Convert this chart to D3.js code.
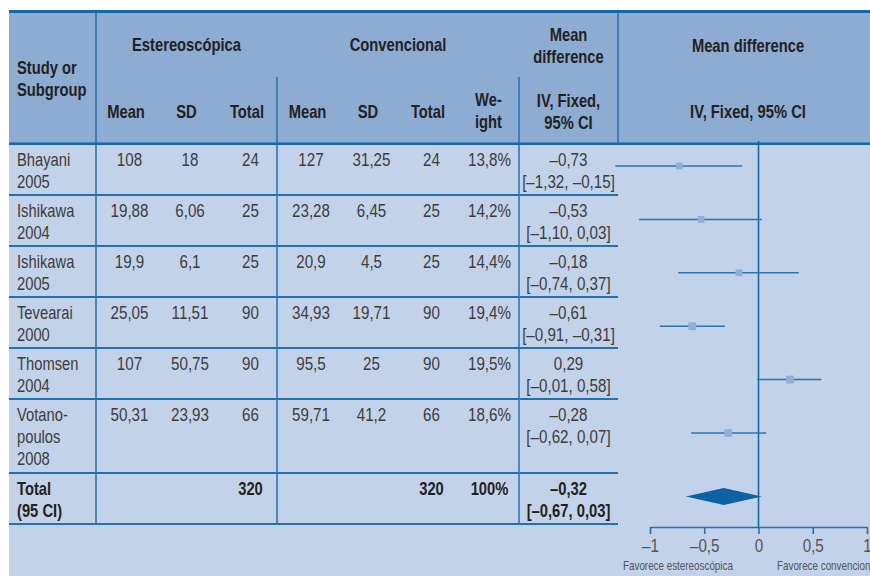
<!DOCTYPE html>
<html>
<head>
<meta charset="utf-8">
<script src="https://cdn.jsdelivr.net/npm/d3@7"></script>
<style>
  html, body { margin: 0; padding: 0; background: #fff; }
  svg { display: block; }
  text { font-family: 'Liberation Sans', Arial, sans-serif; }
</style>
</head>
<body>
<svg id="chart" width="870" height="576"></svg>
<script>
// ---- Study data ----
const studies = [["Bhayani", "2005"], ["Ishikawa", "2004"], ["Ishikawa", "2005"],
                 ["Tevearai", "2000"], ["Thomsen", "2004"], ["Votano-", "poulos", "2008"]];
const estMean  = [108, 19.88, 19.9, 25.05, 107, 50.31];
const estSD    = [18, 6.06, 6.1, 11.51, 50.75, 23.93];
const estN     = [24, 25, 25, 90, 90, 66];
const convMean = [127, 23.28, 20.9, 34.93, 95.5, 59.71];
const convSD   = [31.25, 6.45, 4.5, 19.71, 25, 41.2];
const convN    = [24, 25, 25, 90, 90, 66];
const weight   = [13.8, 14.2, 14.4, 19.4, 19.5, 18.6];
const md       = [-0.73, -0.53, -0.18, -0.61, 0.29, -0.28];
const ciLow    = [-1.32, -1.10, -0.74, -0.91, -0.01, -0.62];
const ciHigh   = [-0.15, 0.03, 0.37, -0.31, 0.58, 0.07];

// ---- Pooled (total) row ----
const totalLabel  = ["Total", "(95 CI)"];
const totalEstN   = 320;
const totalConvN  = 320;
const totalWeight = 100;
const totalMD     = -0.32;
const totalLow    = -0.67;
const totalHigh   = 0.03;

// ---- Axis ----
const axisTicks = [-1, -0.5, 0, 0.5, 1];
const favourLeft  = "Favorece estereoscópica";
const favourRight = "Favorece convencional";

// ---- Styling ----
const C = {
  head: "#8DACD2", body: "#C2D2E8", line: "#2471B0", dark: "#1766A6",
  square: "#8FAFD8", ci: "#2A74B2", diamond: "#0E62A2",
  headText: "#222", bodyText: "#3d3d3d", axisText: "#555"
};
const NARROW = 0.82;   // horizontal squeeze for a condensed look
const BODY_SIZE = 18.5;

const svg = d3.select("#chart");
const W = 870, left = 9, headTop = 12, headBot = 144;

// number formatting with decimal comma and en dash minus
const fmtNum = v => (v < 0 ? "\u2013" : "") + String(Math.abs(v)).replace(".", ",");
const fmt2 = v => (v < 0 ? "\u2013" : "") + Math.abs(v).toFixed(2).replace(".", ",");
const fmtPct = v => String(v).replace(".", ",") + "%";
const fmtCI = (a, b) => "[" + fmt2(a) + ", " + fmt2(b) + "]";

// column layout (x edges)
const colEdges = { study: left, est: 96, conv: 277, md: 519, plot: 618 };
const estCols  = [126, 186.5, 247];
const convCols = [307.5, 368, 428];
const wCol = 488.5, mdCol = 568.5;
const numShift = 3.5;

// row layout from line counts
const lineH = 22;
const rows = [];
let yTop = headBot;
studies.forEach((s, i) => {
  const h = 23 * s.length + 5;
  rows.push({ i, top: yTop, h, lines: s });
  yTop += h;
});
const totalTop = yTop, totalH = 23 * totalLabel.length + 5;
const tableBottom = totalTop + totalH;

// backgrounds
svg.append("rect").attr("x", 0).attr("y", 0).attr("width", W).attr("height", 576).attr("fill", "#fff");
svg.append("rect").attr("x", left).attr("y", headTop).attr("width", W - left).attr("height", headBot - headTop).attr("fill", C.head);
svg.append("rect").attr("x", left).attr("y", headBot).attr("width", W - left).attr("height", 576 - headBot).attr("fill", C.body);

// vertical rules
const vline = (x, y1, y2, w, col) => svg.append("line")
  .attr("x1", x).attr("x2", x).attr("y1", y1).attr("y2", y2)
  .attr("stroke", col || C.line).attr("stroke-width", w || 1.5);
vline(colEdges.est, headTop, tableBottom);
vline(colEdges.conv, 77, tableBottom);
vline(colEdges.md, 77, tableBottom);
vline(colEdges.plot, headTop, headBot);

// horizontal rules
const hline = (y, x1, x2, w, col) => svg.append("line")
  .attr("x1", x1).attr("x2", x2).attr("y1", y).attr("y2", y)
  .attr("stroke", col || C.line).attr("stroke-width", w || 1.5);
rows.forEach(r => hline(r.top + r.h, left, colEdges.plot, 1.9));
hline(tableBottom, left, colEdges.plot, 1.9);
hline(11.5, left, W, 3, C.dark);
hline(143.8, left, W, 2.6, C.dark);

// text helper (condensed via horizontal scale around the anchor point)
const txt = (x, y, s, o = {}) => svg.append("text")
  .attr("transform", `translate(${x},${y}) scale(${NARROW},1)`)
  .text(s)
  .attr("text-anchor", o.anchor || "middle")
  .attr("font-size", o.size || BODY_SIZE)
  .attr("font-weight", o.weight || "normal")
  .attr("fill", o.fill || C.bodyText);
const H = { weight: "bold", fill: C.headText, size: 18 };
txt(17, 74, "Study or", { ...H, anchor: "start" });
txt(17, 96, "Subgroup", { ...H, anchor: "start" });
txt((colEdges.est + colEdges.conv) / 2, 51, "Estereoscópica", H);
txt((colEdges.conv + colEdges.md) / 2, 51, "Convencional", H);
txt(mdCol, 41, "Mean", H);
txt(mdCol, 63, "difference", H);
txt(748, 52, "Mean difference", H);
["Mean", "SD", "Total"].forEach((s, k) => { txt(estCols[k], 118, s, H); txt(convCols[k], 118, s, H); });
txt(wCol, 106, "We-", H);
txt(wCol, 128, "ight", H);
txt(mdCol, 107, "IV, Fixed,", H);
txt(mdCol, 129, "95% CI", H);
txt(748, 118, "IV, Fixed, 95% CI", H);

// study rows
rows.forEach(r => {
  const i = r.i, b = r.top + lineH;
  r.lines.forEach((s, k) => txt(17, b + k * lineH, s, { anchor: "start", size: 18 }));
  txt(estCols[0] + numShift, b, fmtNum(estMean[i]));
  txt(estCols[1] + numShift, b, fmtNum(estSD[i]));
  txt(estCols[2] + numShift, b, fmtNum(estN[i]));
  txt(convCols[0] + numShift, b, fmtNum(convMean[i]));
  txt(convCols[1] + numShift, b, fmtNum(convSD[i]));
  txt(convCols[2] + numShift, b, fmtNum(convN[i]));
  txt(wCol + 1, b, fmtPct(weight[i]));
  txt(mdCol, b, fmt2(md[i]));
  txt(mdCol, b + lineH, fmtCI(ciLow[i], ciHigh[i]));
});

// total row
{
  const b = totalTop + lineH, T = { weight: "bold", fill: C.headText, size: 18 };
  totalLabel.forEach((s, k) => txt(17, b + k * lineH, s, { ...T, anchor: "start" }));
  txt(estCols[2] + numShift, b, fmtNum(totalEstN), T);
  txt(convCols[2] + numShift, b, fmtNum(totalConvN), T);
  txt(wCol + 1, b, fmtPct(totalWeight), T);
  txt(mdCol, b, fmt2(totalMD), T);
  txt(mdCol, b + lineH, fmtCI(totalLow, totalHigh), T);
}

// ---- Forest plot ----
const x = d3.scaleLinear().domain([-1, 1]).range([650, 867]);
const y = d3.scalePoint().domain(d3.range(studies.length)).range([166, 433]);
const totalY = 496.5;
const axisY = 527;
const sq = d3.scaleSqrt().domain([0, 20]).range([0, 8]);

// line of no effect
svg.append("line").attr("x1", x(0)).attr("x2", x(0)).attr("y1", 141).attr("y2", axisY)
  .attr("stroke", C.dark).attr("stroke-width", 1.6);

const g = svg.append("g");
const idx = d3.range(studies.length);
g.selectAll("line.ci").data(idx).join("line").attr("class", "ci")
  .attr("x1", i => x(ciLow[i])).attr("x2", i => x(ciHigh[i]))
  .attr("y1", i => y(i)).attr("y2", i => y(i))
  .attr("stroke", C.ci).attr("stroke-width", 1.5);
g.selectAll("rect.pt").data(idx).join("rect").attr("class", "pt")
  .attr("x", i => x(md[i]) - sq(weight[i]) / 2)
  .attr("y", i => y(i) - sq(weight[i]) / 2)
  .attr("width", i => sq(weight[i])).attr("height", i => sq(weight[i]))
  .attr("fill", C.square);

// pooled diamond
const dh = 8.5;
svg.append("path")
  .attr("d", `M${x(totalLow)},${totalY} L${x(totalMD)},${totalY - dh} L${x(totalHigh)},${totalY} L${x(totalMD)},${totalY + dh} Z`)
  .attr("fill", C.diamond);

// axis
const axis = d3.axisBottom(x).tickValues(axisTicks).tickSize(7).tickSizeOuter(0)
  .tickFormat(v => (v < 0 ? "\u2013" : "") + String(Math.abs(v)).replace(".", ","));
const ag = svg.append("g").attr("transform", `translate(0,${axisY})`).call(axis);
ag.select(".domain").attr("stroke", C.line).attr("stroke-width", 1.6);
ag.selectAll(".tick line").attr("stroke", C.line).attr("stroke-width", 1.6);
ag.selectAll(".tick text").attr("y", 12).attr("font-size", 18.5).attr("fill", C.axisText)
  .attr("transform", `scale(${NARROW},1)`)
  .attr("font-family", "'Liberation Sans', Arial, sans-serif");

txt(623, 570, favourLeft, { anchor: "start", size: 12, fill: C.axisText });
txt(777, 570, favourRight, { anchor: "start", size: 12, fill: C.axisText });
</script>
</body>
</html>
